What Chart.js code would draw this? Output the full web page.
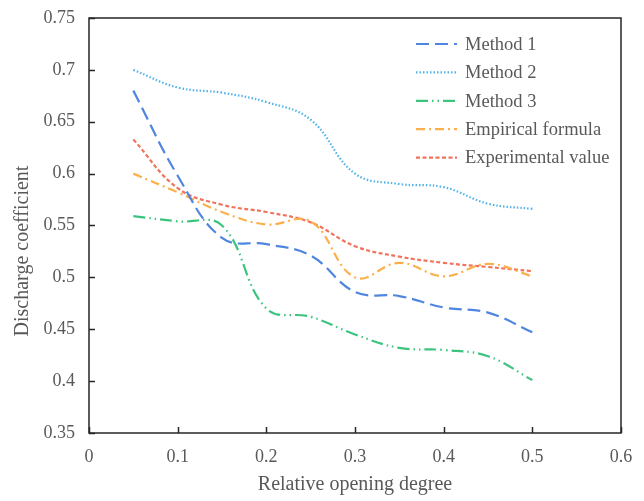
<!DOCTYPE html>
<html>
<head>
<meta charset="utf-8">
<script src="https://cdn.jsdelivr.net/npm/chart.js@4.4.1/dist/chart.umd.min.js"></script>
<style>
  html, body { margin: 0; padding: 0; background: #fff; }
  #wrap { width: 644px; height: 501px; }
</style>
</head>
<body>
<div id="wrap"><canvas id="chart"></canvas></div>
<script>
const openings = [0.05, 0.1, 0.15, 0.2, 0.25, 0.3, 0.35, 0.4, 0.45, 0.5];
const method1 = [0.680, 0.598, 0.538, 0.532, 0.521, 0.486, 0.482, 0.471, 0.466, 0.447];
const method2 = [0.700, 0.683, 0.678, 0.669, 0.652, 0.600, 0.590, 0.587, 0.571, 0.566];
const method3 = [0.559, 0.554, 0.550, 0.470, 0.462, 0.445, 0.432, 0.430, 0.424, 0.401];
const empirical = [0.600, 0.582, 0.563, 0.551, 0.554, 0.500, 0.514, 0.501, 0.513, 0.501];
const experimental = [0.633, 0.586, 0.570, 0.563, 0.553, 0.530, 0.520, 0.514, 0.510, 0.506];

const yTitle = 'Discharge coefficient';
const xTitle = 'Relative opening degree';

const FONT = '"Liberation Serif", "Times New Roman", serif';
const TEXT = '#595959';

const toPoints = vals => vals.map((v, i) => ({ x: openings[i], y: v }));

function series(label, vals, color, dash) {
  return {
    label: label,
    data: toPoints(vals),
    borderColor: color,
    backgroundColor: color,
    borderWidth: 2.2,
    borderDash: dash,
    tension: 0.4,
    pointRadius: 0,
    fill: false
  };
}

// box around the plot with inward tick marks, plus the y title
const frame = {
  id: 'frame',
  afterDatasetsDraw(chart) {
    const { ctx, chartArea: a, scales } = chart;
    ctx.save();
    ctx.strokeStyle = '#262626';
    ctx.lineWidth = 1.5;
    ctx.strokeRect(a.left, a.top, a.right - a.left, a.bottom - a.top);
    ctx.beginPath();
    scales.x.ticks.forEach(t => {
      const px = Math.round(scales.x.getPixelForValue(t.value)) + 0.5;
      ctx.moveTo(px, a.bottom);
      ctx.lineTo(px, a.bottom - 6);
    });
    scales.y.ticks.forEach(t => {
      const py = Math.round(scales.y.getPixelForValue(t.value)) + 0.5;
      ctx.moveTo(a.left, py);
      ctx.lineTo(a.left + 6, py);
    });
    ctx.stroke();

    // y axis title sits a bit below the plot centre, as in the source figure
    ctx.translate(23, 251);
    ctx.rotate(-Math.PI / 2);
    ctx.font = '20px ' + FONT;
    ctx.fillStyle = TEXT;
    ctx.textAlign = 'center';
    ctx.textBaseline = 'middle';
    ctx.fillText(yTitle, 0, 0);
    ctx.restore();
  }
};

// legend drawn inside the plot, top right
const insideLegend = {
  id: 'insideLegend',
  afterDraw(chart) {
    const { ctx } = chart;
    ctx.save();
    ctx.font = '18.5px ' + FONT;
    ctx.textBaseline = 'middle';
    chart.data.datasets.forEach((ds, i) => {
      const y = 44 + i * 28.4;
      ctx.strokeStyle = ds.borderColor;
      ctx.lineWidth = ds.borderWidth;
      ctx.setLineDash(ds.borderDash || []);
      ctx.beginPath();
      ctx.moveTo(416, y);
      ctx.lineTo(457, y);
      ctx.stroke();
      ctx.setLineDash([]);
      ctx.fillStyle = TEXT;
      ctx.fillText(ds.label, 465, y + 1);
    });
    ctx.restore();
  }
};

new Chart(document.getElementById('chart'), {
  type: 'line',
  data: {
    datasets: [
      series('Method 1', method1, '#4f86e0', [13, 6]),
      series('Method 2', method2, '#4fb3e8', [1.5, 2]),
      series('Method 3', method3, '#3cc47f', [12, 4, 1.5, 4, 1.5, 4]),
      series('Empirical formula', empirical, '#fbb04c', [9, 4, 2, 4]),
      series('Experimental value', experimental, '#f2735c', [4, 2.5])
    ]
  },
  options: {
    responsive: true,
    maintainAspectRatio: false,
    animation: false,
    layout: { padding: { top: 18, right: 23, left: 0, bottom: 0 } },
    plugins: {
      legend: { display: false },
      tooltip: { enabled: false }
    },
    scales: {
      x: {
        type: 'linear',
        min: 0,
        max: 0.6,
        grid: { display: false, drawTicks: false },
        border: { display: false },
        ticks: {
          stepSize: 0.1,
          padding: 13,
          color: TEXT,
          font: { family: FONT, size: 18 },
          callback: v => String(+v.toFixed(2))
        },
        title: {
          display: true,
          text: xTitle,
          color: TEXT,
          font: { family: FONT, size: 20 },
          padding: { top: 6 }
        },
        afterFit(scale) {
          scale.height = 68;
          scale.paddingLeft = 0;
          scale.paddingRight = 0;
        }
      },
      y: {
        min: 0.35,
        max: 0.75,
        grid: { display: false, drawTicks: false },
        border: { display: false },
        ticks: {
          stepSize: 0.05,
          padding: 14,
          color: TEXT,
          font: { family: FONT, size: 18 },
          callback: v => String(+v.toFixed(2))
        },
        afterFit(scale) {
          scale.width = 89;
          scale.paddingTop = 0;
          scale.paddingBottom = 0;
        }
      }
    }
  },
  plugins: [frame, insideLegend]
});
</script>
</body>
</html>
